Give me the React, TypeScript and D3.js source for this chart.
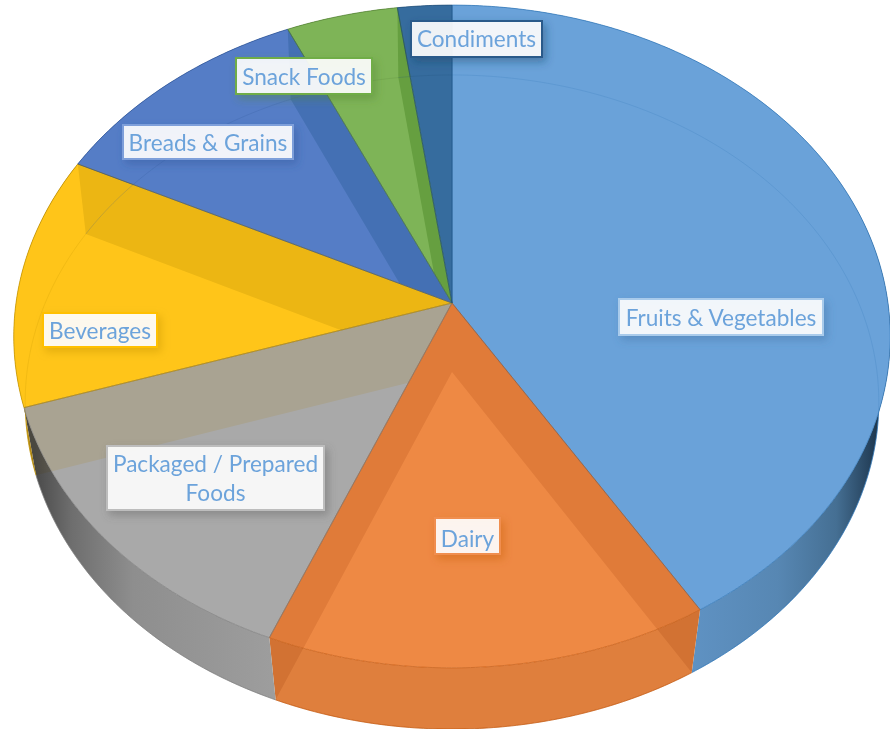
import React from "react";
import * as d3 from "d3";

const categories = ["Fruits & Vegetables", "Dairy", "Packaged / Prepared Foods", "Beverages", "Breads & Grains", "Snack Foods", "Condiments"];
const shares = [41.3, 14.9, 13.8, 12.3, 10.95, 4.55, 2.2];

const faceColors = ["#6AA2D9", "#EE8944", "#A9A9A9", "#FFC519", "#557DC6", "#7EB457", "#366C9E"];
const rimColors = ["#2E75B6", "#C55A11", "#7C7C7C", "#BF9000", "#2F5597", "#548235", "#1F4E79"];
const labelBorders = ["#A9CBEB", "#F08E50", "#BDBDBD", "#FFC000", "#7E9FDA", "#70AD47", "#2A5A8A"];
const shadowColors = ["#3F6F9F", "#C55A11", "#5A5A5A", "#BF9000", "#2F5597", "#548235", "#1F3F60"];
const wallTints = ["#F0E5D6", "#F0E5D6", "#FFF6DD", "#ECECBF", "#CCE5E8", "#CFE2BA", "#FFFFFF"];
// the slice that each radial wall is seen through
const wallHosts = [1, 1, 2, 3, 4, 5, 6];

const topFace = { ax: 452, ay: 303, a: 436, b: 328, k: -0.101 };
const bottomFace = { ax: 452, ay: 372, a: 425, b: 324.3, k: -0.0918 };

const labelBoxes = [
  { x: 619, y: 299, w: 204, h: 36, dy: 0, lines: ["Fruits & Vegetables"] },
  { x: 435, y: 518, w: 65, h: 36, dy: 2.5, lines: ["Dairy"] },
  { x: 107, y: 446, w: 217, h: 64, dy: 0, lines: ["Packaged / Prepared", "Foods"] },
  { x: 43, y: 313, w: 114, h: 34, dy: 0, lines: ["Beverages"] },
  { x: 123, y: 125, w: 170, h: 34, dy: 0, lines: ["Breads & Grains"] },
  { x: 236, y: 58, w: 136, h: 36, dy: 0, lines: ["Snack Foods"] },
  { x: 411, y: 21, w: 131, h: 36, dy: -0.5, lines: ["Condiments"] },
];

type Face = typeof topFace;
type P = [number, number];

const project = (t: number, f: Face): P => {
  const u = Math.sin(t);
  const v = -Math.cos(t);
  const d = 1 + f.k * v;
  return [f.ax + (f.a * u) / d, f.ay + (f.b * v) / d];
};

const arcPts = (t0: number, t1: number, f: Face): P[] => {
  const n = Math.max(2, Math.ceil((t1 - t0) / 0.01));
  return d3.range(n + 1).map((i) => project(t0 + ((t1 - t0) * i) / n, f));
};

const line = d3.line<P>();
const closed = (pts: P[]) => line(pts) + "Z";

const slices = d3.pie<number>().sort(null).value((d) => d)(shares);

const wedgePath = (i: number) =>
  closed([[topFace.ax, topFace.ay], ...arcPts(slices[i].startAngle, slices[i].endAngle, topFace)]);
const sidePath = (i: number) =>
  closed([
    ...arcPts(slices[i].startAngle, slices[i].endAngle, topFace),
    ...arcPts(slices[i].startAngle, slices[i].endAngle, bottomFace).reverse(),
  ]);

const wallFill = (i: number) => {
  if (i === 0) return "url(#wall0)";
  if (i === 1) return "#DF7F3D";
  if (i === 2) return "url(#wall2)";
  if (i === 3) return "url(#wall3)";
  return rimColors[i];
};

export default function App() {
  return (
    <svg
      width={890}
      height={729}
      viewBox="0 0 890 729"
      style={{ position: "absolute", left: 0, top: 0, fontFamily: "Lato, 'Noto Sans', sans-serif" }}
    >
      <defs>
        <linearGradient id="wall0" gradientUnits="userSpaceOnUse" x1={690} y1={0} x2={885} y2={0}>
          <stop offset="0" stopColor="#5F92C3" />
          <stop offset="0.45" stopColor="#5787B3" />
          <stop offset="0.75" stopColor="#456F93" />
          <stop offset="0.93" stopColor="#24405A" />
          <stop offset="1" stopColor="#1A2C3C" />
        </linearGradient>
        <linearGradient id="wall2" gradientUnits="userSpaceOnUse" x1={35} y1={0} x2={280} y2={0}>
          <stop offset="0" stopColor="#4A4A4A" />
          <stop offset="0.15" stopColor="#6E6E6E" />
          <stop offset="0.4" stopColor="#8E8E8E" />
          <stop offset="1" stopColor="#9E9E9E" />
        </linearGradient>
        <linearGradient id="wall3" gradientUnits="userSpaceOnUse" x1={20} y1={0} x2={45} y2={0}>
          <stop offset="0" stopColor="#D9A510" />
          <stop offset="1" stopColor="#6A5520" />
        </linearGradient>
        {shadowColors.map((c, i) => (
          <filter key={i} id={`sh${i}`} x="-20%" y="-30%" width="140%" height="170%">
            <feDropShadow dx={3} dy={4} stdDeviation={4} floodColor={c} floodOpacity={0.45} />
          </filter>
        ))}
        {slices.map((_, i) => (
          <clipPath key={i} id={`host${i}`}>
            <path d={wedgePath(i)} />
            <path d={sidePath(i)} />
          </clipPath>
        ))}
      </defs>

      {/* outer walls */}
      {slices.map((_, i) => (
        <path key={i} d={sidePath(i)} fill={wallFill(i)} />
      ))}
      {slices.map((s, i) => (
        <path
          key={i}
          d={line(arcPts(s.startAngle, s.endAngle, bottomFace)) ?? ""}
          fill="none"
          stroke={rimColors[i]}
          strokeWidth={1}
          strokeOpacity={0.7}
        />
      ))}

      {/* top faces */}
      {slices.map((_, i) => (
        <path key={i} d={wedgePath(i)} fill={faceColors[i]} />
      ))}

      {/* see-through radial walls */}
      {slices.map((s, i) => {
        const pts: P[] = [project(s.endAngle, topFace), [topFace.ax, topFace.ay], [bottomFace.ax, bottomFace.ay], project(s.endAngle, bottomFace)];
        return (
          <g key={i} clipPath={`url(#host${wallHosts[i]})`} style={{ mixBlendMode: "multiply" }}>
            <path d={closed(pts)} fill={wallTints[i]} />
          </g>
        );
      })}

      {/* see-through floor rim */}
      {slices.map((s, i) => (
        <path
          key={i}
          d={line(arcPts(s.startAngle, s.endAngle, bottomFace)) ?? ""}
          fill="none"
          stroke={rimColors[i]}
          strokeWidth={1}
          strokeOpacity={0.2}
        />
      ))}

      {/* slice outlines */}
      {slices.map((_, i) => (
        <path key={i} d={wedgePath(i)} fill="none" stroke={rimColors[i]} strokeWidth={1} strokeOpacity={0.7} />
      ))}

      {/* labels */}
      {categories.map((_, i) => {
        const b = labelBoxes[i];
        return (
          <g key={i}>
            <rect
              x={b.x}
              y={b.y}
              width={b.w}
              height={b.h}
              fill="#FFFFFF"
              fillOpacity={0.9}
              stroke={labelBorders[i]}
              strokeWidth={2}
              filter={`url(#sh${i})`}
            />
            {b.lines.map((t, j) => (
              <text
                key={j}
                x={b.x + b.w / 2}
                y={b.y + b.h / 2 + 8.5 + b.dy + (j - (b.lines.length - 1) / 2) * 29}
                textAnchor="middle"
                fontSize={22.6}
                fill="#6CA3DB"
              >
                {t}
              </text>
            ))}
          </g>
        );
      })}
    </svg>
  );
}
